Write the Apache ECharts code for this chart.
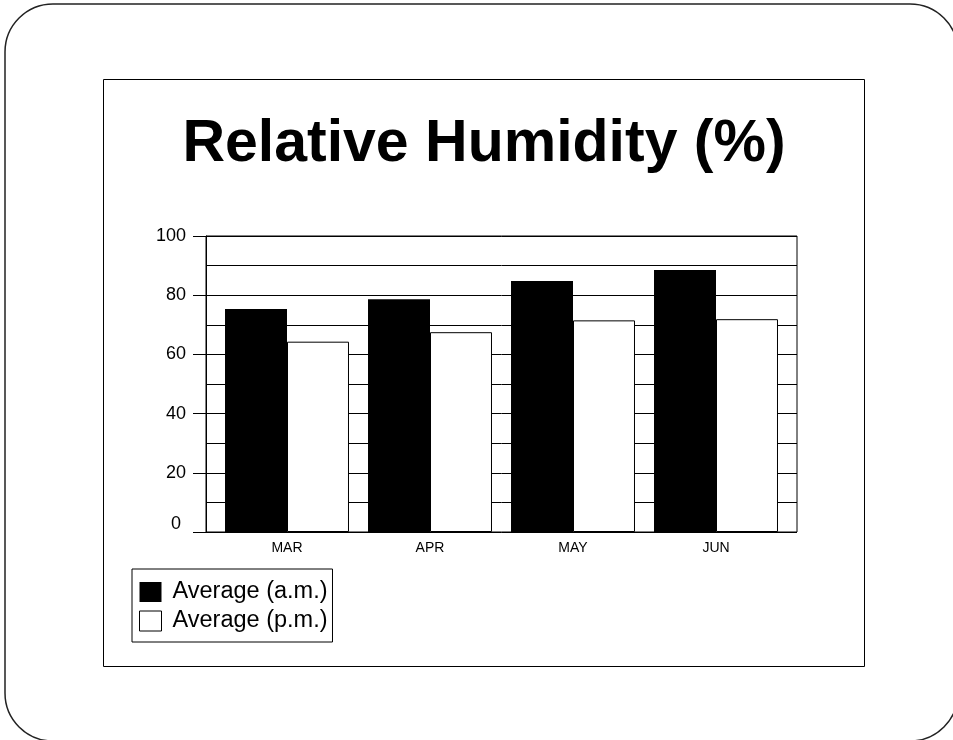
<!DOCTYPE html>
<html>
<head>
<meta charset="utf-8">
<title>Relative Humidity</title>
<script src="https://cdn.jsdelivr.net/npm/echarts@6/dist/echarts.min.js"></script>
<style>
  html, body { margin: 0; padding: 0; background: #fff; }
  #chart { width: 953px; height: 740px; }
</style>
</head>
<body>
<div id="chart"></div>
<script>
// data
const months = ['MAR', 'APR', 'MAY', 'JUN']
const amValues = [75.3, 78.6, 84.8, 88.5]
const pmValues = [64.3, 67.5, 71.5, 71.9]
const seriesNames = ['Average (a.m.)', 'Average (p.m.)']

const font = '"Liberation Sans", Arial, sans-serif'
const chart = echarts.init(document.getElementById('chart'))

// plot frame: 206..797 x 236..532
const plot = { left: 206, top: 236, width: 591, height: 296 }
// bars sit in a slightly narrower grid so the outer gaps equal the inner ones
const barPad = 9.5

chart.setOption({
  animation: false,
  backgroundColor: '#fff',
  graphic: [
    {
      type: 'rect',
      shape: { x: 5, y: 4, width: 953, height: 737, r: 48 },
      style: { fill: 'none', stroke: '#222', lineWidth: 1.5 },
      silent: true
    },
    {
      type: 'rect',
      shape: { x: 103.5, y: 79.5, width: 761, height: 587 },
      style: { fill: 'none', stroke: '#000', lineWidth: 1 },
      silent: true
    },
    {
      type: 'text',
      style: {
        x: 484,
        y: 145,
        text: 'Relative Humidity (%)',
        font: 'bold 59px ' + font,
        fill: '#000',
        textAlign: 'center',
        textVerticalAlign: 'middle'
      },
      silent: true
    }
  ],
  legend: {
    orient: 'vertical',
    left: 132,
    top: 569,
    padding: [11, 5, 9, 7],
    itemWidth: 22,
    itemHeight: 20,
    itemGap: 5,
    borderColor: '#000',
    borderWidth: 1,
    selectedMode: false,
    textStyle: { fontSize: 23.5, color: '#000', fontFamily: font, padding: [0, 0, 0, 6] },
    data: [
      { name: seriesNames[0], icon: 'rect', itemStyle: { color: '#000', borderWidth: 0 } },
      { name: seriesNames[1], icon: 'rect', itemStyle: { color: '#fff', borderColor: '#000', borderWidth: 1 } }
    ]
  },
  grid: [
    {
      left: plot.left, top: plot.top, width: plot.width, height: plot.height,
      show: true, borderColor: '#000', borderWidth: 1, backgroundColor: 'transparent'
    },
    {
      left: plot.left + barPad, top: plot.top, width: plot.width - 2 * barPad, height: plot.height
    }
  ],
  xAxis: [
    { gridIndex: 0, type: 'value', min: 0, max: 1, show: false },
    {
      gridIndex: 1,
      type: 'category',
      data: months,
      axisLine: { show: false },
      axisTick: { show: false },
      axisLabel: { color: '#000', fontSize: 14, fontFamily: font, margin: 9 }
    }
  ],
  yAxis: [
    {
      gridIndex: 0,
      type: 'value',
      min: 0,
      max: 100,
      interval: 20,
      axisLine: { show: true, lineStyle: { color: '#000', width: 1 } },
      axisTick: { show: true, length: 13, lineStyle: { color: '#000', width: 1 } },
      minorTick: { show: false, splitNumber: 2 },
      splitLine: { show: true, lineStyle: { color: '#000', width: 1 } },
      minorSplitLine: { show: true, lineStyle: { color: '#000', width: 1 } },
      axisLabel: {
        color: '#000',
        fontSize: 18,
        fontFamily: font,
        margin: 20,
        formatter: (v) => (v === 0 ? '{z|0}' : String(v)),
        rich: { z: { fontSize: 18, fontFamily: font, color: '#000', padding: [0, 5, 16, 0] } }
      }
    },
    { gridIndex: 1, type: 'value', min: 0, max: 100, show: false }
  ],
  series: [
    {
      name: seriesNames[0],
      type: 'bar',
      xAxisIndex: 1,
      yAxisIndex: 1,
      data: amValues,
      barGap: '0%',
      barCategoryGap: '13.3%',
      itemStyle: { color: '#000' }
    },
    {
      name: seriesNames[1],
      type: 'bar',
      xAxisIndex: 1,
      yAxisIndex: 1,
      data: pmValues,
      barGap: '0%',
      barCategoryGap: '13.3%',
      itemStyle: { color: '#fff', borderColor: '#000', borderWidth: 1 }
    }
  ]
})
</script>
</body>
</html>
